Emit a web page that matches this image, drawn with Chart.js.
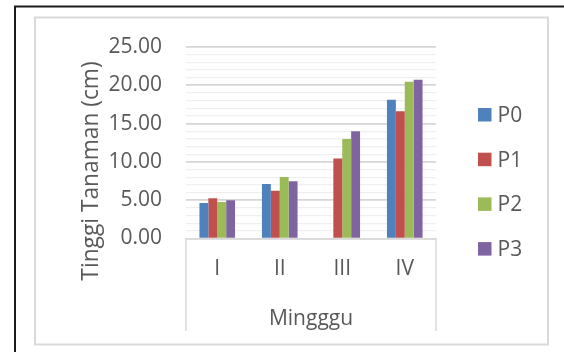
<!DOCTYPE html>
<html>
<head>
<meta charset="utf-8">
<script src="https://cdn.jsdelivr.net/npm/chart.js@4/dist/chart.umd.min.js"></script>
<style>
  html, body { margin: 0; padding: 0; background: #ffffff; }
  #wrap { width: 564px; height: 352px; position: relative; }
</style>
</head>
<body>
<div id="wrap"><canvas id="c" width="564" height="352"></canvas></div>
<script>
const categories = ['I', 'II', 'III', 'IV'];
const seriesNames = ['P0', 'P1', 'P2', 'P3'];
const seriesColors = ['#4F81BD', '#C0504D', '#9BBB59', '#8064A2'];
const p0Values = [4.65, 7.13, null, 18.10];
const p1Values = [5.26, 6.22, 10.45, 16.60];
const p2Values = [4.78, 8.04, 12.99, 20.47];
const p3Values = [5.00, 7.48, 14.00, 20.73];
const yMin = 0, yMax = 25, yMinorStep = 1, yMajorStep = 5;
const yAxisTitle = 'Tinggi Tanaman (cm)';
const xAxisTitle = 'Mingggu';

const FONT = "'Open Sans', 'DejaVu Sans', sans-serif";
const TEXT = '#595959';

const allValues = [p0Values, p1Values, p2Values, p3Values];
const datasets = seriesNames.map((name, i) => ({
  label: name,
  data: allValues[i],
  backgroundColor: seriesColors[i],
  borderWidth: 0,
  categoryPercentage: 0.57,
  barPercentage: 1.0
}));

const decorPlugin = {
  id: 'decor',
  beforeDraw(chart) {
    const ctx = chart.ctx;
    ctx.save();
    ctx.fillStyle = '#ffffff';
    ctx.fillRect(0, 0, chart.width, chart.height);
    // outer dark frame (left + top visible)
    ctx.strokeStyle = '#1a1a1a';
    ctx.lineWidth = 2;
    ctx.beginPath();
    ctx.moveTo(15, 400); ctx.lineTo(15, 6.5); ctx.lineTo(600, 6.5);
    ctx.stroke();
    // inner chart-area frame
    ctx.strokeStyle = '#d9d9d9';
    ctx.lineWidth = 2;
    ctx.strokeRect(35, 17.5, 513, 327);
    ctx.restore();
  },
  afterDraw(chart) {
    const ctx = chart.ctx;
    const a = chart.chartArea;
    ctx.save();
    // category-axis box sides
    ctx.strokeStyle = '#d9d9d9';
    ctx.lineWidth = 1.5;
    ctx.beginPath();
    ctx.moveTo(a.left, a.bottom); ctx.lineTo(a.left, 331);
    ctx.moveTo(a.right, a.bottom); ctx.lineTo(a.right, 331);
    ctx.stroke();
    // x axis title
    ctx.fillStyle = TEXT;
    ctx.font = '21px ' + FONT;
    ctx.textAlign = 'center';
    ctx.textBaseline = 'alphabetic';
    ctx.fillText(xAxisTitle, (a.left + a.right) / 2, 324.5);
    // y axis title (rotated)
    ctx.save();
    ctx.translate(97.5, 171);
    ctx.rotate(-Math.PI / 2);
    ctx.font = '22.75px ' + FONT;
    ctx.textAlign = 'center';
    ctx.textBaseline = 'alphabetic';
    ctx.fillText(yAxisTitle, 0, 0);
    ctx.restore();
    // legend
    const ds = chart.data.datasets;
    ctx.font = '21px ' + FONT;
    ctx.textAlign = 'left';
    ds.forEach((d, i) => {
      const top = 108 + i * 44.7;
      ctx.fillStyle = d.backgroundColor;
      ctx.fillRect(478, top, 13.5, 13.5);
      ctx.fillStyle = TEXT;
      ctx.fillText(d.label, 497.5, top + 14);
    });
    ctx.restore();
  }
};

new Chart(document.getElementById('c'), {
  type: 'bar',
  data: { labels: categories, datasets },
  options: {
    responsive: false,
    animation: false,
    devicePixelRatio: 1,
    layout: { padding: { top: 47, left: 0, right: 128, bottom: 0 } },
    plugins: { legend: { display: false }, tooltip: { enabled: false } },
    scales: {
      x: {
        afterFit(scale) { scale.height = 113.5; },
        grid: { display: false, drawTicks: false },
        border: { display: true, color: '#d9d9d9', width: 1.5 },
        ticks: { color: TEXT, font: { family: FONT, size: 21 }, padding: 18 }
      },
      y: {
        min: yMin, max: yMax,
        afterFit(scale) { scale.width = 186; },
        border: { display: false },
        grid: {
          drawTicks: false,
          color: (c) => (c.tick && c.tick.value % yMajorStep === 0) ? '#d6d6d6' : '#efefef',
          lineWidth: (c) => (c.tick && c.tick.value % yMajorStep === 0) ? 1.75 : 1.25
        },
        ticks: {
          stepSize: yMinorStep,
          autoSkip: false,
          color: TEXT,
          font: { family: FONT, size: 21 },
          padding: 24,
          callback: (v) => (v % yMajorStep === 0 ? Number(v).toFixed(2) : '')
        }
      }
    }
  },
  plugins: [decorPlugin]
});
</script>
</body>
</html>
